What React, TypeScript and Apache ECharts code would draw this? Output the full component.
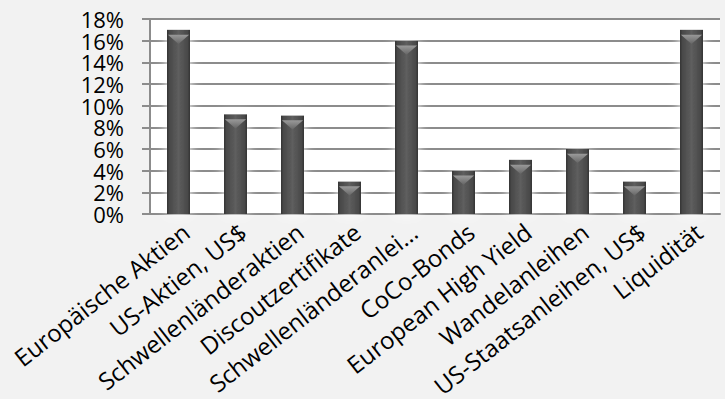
import React, { useEffect, useRef } from "react";
import * as echarts from "echarts";

const categories = [
  "Europäische Aktien",
  "US-Aktien, US$",
  "Schwellenländeraktien",
  "Discoutzertifikate",
  "Schwellenländeranlei…",
  "CoCo-Bonds",
  "European High Yield",
  "Wandelanleihen",
  "US-Staatsanleihen, US$",
  "Liquidität",
];
const values = [17, 9.2, 9.1, 3, 16, 4, 5, 6, 3, 17];
const yTicks = { min: 0, max: 18, interval: 2 };

export default function App() {
  const ref = useRef<HTMLDivElement>(null);
  useEffect(() => {
    if (!ref.current) return;
    const chart = echarts.init(ref.current, null, { renderer: "svg" });
    const font = "'Open Sans', sans-serif";
    const yLabelBase = {
      margin: 26,
      color: "#000",
      fontFamily: font,
      fontSize: 22,
      lineHeight: 20,
      showMinLabel: true,
      showMaxLabel: true,
      hideOverlap: false,
    };
    chart.setOption({
      animation: false,
      backgroundColor: "#f2f2f2",
      grid: {
        left: 150,
        right: 5,
        top: 19,
        bottom: 185,
        show: true,
        backgroundColor: "#ffffff",
        borderWidth: 0,
        containLabel: false,
        outerBoundsMode: "none",
      },
      xAxis: {
        type: "category",
        data: categories,
        axisLine: { show: true, lineStyle: { color: "#8c8c8c", width: 2 } },
        axisTick: { show: false },
        axisLabel: {
          interval: 0,
          rotate: 38,
          margin: 5,
          color: "#000",
          fontFamily: font,
          fontSize: 24,
          lineHeight: 24,
          align: "right",
          verticalAlign: "top",
          hideOverlap: false,
        },
      },
      yAxis: [
        {
          type: "value",
          min: yTicks.min,
          max: yTicks.max,
          interval: yTicks.interval,
          axisLine: { show: true, lineStyle: { color: "#8c8c8c", width: 2 } },
          axisTick: { show: true, length: 8, lineStyle: { color: "#8c8c8c", width: 2 } },
          splitLine: { show: true, lineStyle: { color: "#8c8c8c", width: 2 } },
          splitArea: { show: true, areaStyle: { color: ["#ffffff"] } },
          axisLabel: {
            ...yLabelBase,
            formatter: (v: number) => (v % 4 === 0 ? `${v}%` : ""),
          },
        },
        {
          type: "value",
          position: "left",
          min: yTicks.min,
          max: yTicks.max,
          interval: yTicks.interval,
          axisLine: { show: false },
          axisTick: { show: false },
          splitLine: { show: false },
          axisLabel: {
            ...yLabelBase,
            formatter: (v: number) => (v % 4 === 2 ? `${v}%` : ""),
          },
        },
      ],
      series: [
        {
          type: "bar",
          yAxisIndex: 0,
          data: values,
          barWidth: 23,
          itemStyle: {
            color: new echarts.graphic.LinearGradient(0, 0, 1, 0, [
              { offset: 0, color: "#333333" },
              { offset: 0.12, color: "#4a4a4a" },
              { offset: 0.5, color: "#5e5e5e" },
              { offset: 0.88, color: "#4a4a4a" },
              { offset: 1, color: "#333333" },
            ]),
            shadowColor: "rgba(255,255,255,1)",
            shadowBlur: 12,
          },
        },
        {
          type: "pictorialBar",
          yAxisIndex: 0,
          data: values,
          symbol: "path://M0,0L10,0L5,4Z",
          symbolSize: [21, 9],
          symbolPosition: "end",
          symbolOffset: [0, "55%"],
          z: 3,
          itemStyle: {
            color: new echarts.graphic.LinearGradient(0, 0, 0, 1, [
              { offset: 0, color: "#9a9a9a" },
              { offset: 1, color: "#666666" },
            ]),
          },
        },
      ],
    });
    return () => chart.dispose();
  }, []);
  return (
    <div
      ref={ref}
      style={{ position: "absolute", left: 0, top: 0, width: 725, height: 399, background: "#f2f2f2" }}
    />
  );
}
